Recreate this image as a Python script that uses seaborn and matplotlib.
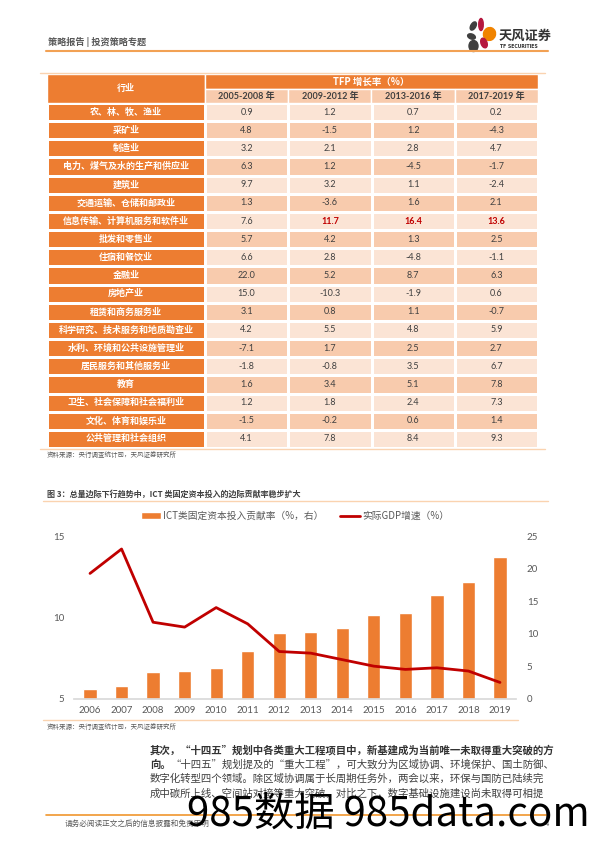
import matplotlib
matplotlib.use("Agg")
import matplotlib.pyplot as plt
import numpy as np
import seaborn as sns
from matplotlib.colors import ListedColormap
from matplotlib.lines import Line2D
from matplotlib.patches import Ellipse, Patch, Rectangle

# ---- table data: TFP growth by industry (%) ----
industries = [
    "农、林、牧、渔业", "采矿业", "制造业", "电力、煤气及水的生产和供应业", "建筑业",
    "交通运输、仓储和邮政业", "信息传输、计算机服务和软件业", "批发和零售业", "住宿和餐饮业",
    "金融业", "房地产业", "租赁和商务服务业", "科学研究、技术服务和地质勘查业",
    "水利、环境和公共设施管理业", "居民服务和其他服务业", "教育", "卫生、社会保障和社会福利业",
    "文化、体育和娱乐业", "公共管理和社会组织",
]
periods = ["2005-2008 年", "2009-2012 年", "2013-2016 年", "2017-2019 年"]
tfp_2005_2008 = [0.9, 4.8, 3.2, 6.3, 9.7, 1.3, 7.6, 5.7, 6.6, 22.0, 15.0, 3.1, 4.2, -7.1, -1.8, 1.6, 1.2, -1.5, 4.1]
tfp_2009_2012 = [1.2, -1.5, 2.1, 1.2, 3.2, -3.6, 11.7, 4.2, 2.8, 5.2, -10.3, 0.8, 5.5, 1.7, -0.8, 3.4, 1.8, -0.2, 7.8]
tfp_2013_2016 = [0.7, 1.2, 2.8, -4.5, 1.1, 1.6, 16.4, 1.3, -4.8, 8.7, -1.9, 1.1, 4.8, 2.5, 3.5, 5.1, 2.4, 0.6, 8.4]
tfp_2017_2019 = [0.2, -4.3, 4.7, -1.7, -2.4, 2.1, 13.6, 2.5, -1.1, 6.3, 0.6, -0.7, 5.9, 2.7, 6.7, 7.8, 7.3, 1.4, 9.3]
highlight_industry = "信息传输、计算机服务和软件业"
highlight_periods = ["2009-2012 年", "2013-2016 年", "2017-2019 年"]

# ---- chart data ----
years = ["2006", "2007", "2008", "2009", "2010", "2011", "2012",
         "2013", "2014", "2015", "2016", "2017", "2018", "2019"]
ict_share = [1.5, 2.0, 4.1, 4.3, 4.7, 7.3, 10.1, 10.3, 10.8, 12.9, 13.2, 15.9, 17.9, 21.7]
gdp_growth = [12.7, 14.2, 9.7, 9.4, 10.6, 9.6, 7.9, 7.8, 7.4, 7.0, 6.8, 6.9, 6.7, 6.0]

paragraph = [
    "其次，“十四五”规划中各类重大工程项目中，新基建成为当前唯一未取得重大突破的方",
    "“十四五”规划提及的“重大工程”，可大致分为区域协调、环境保护、国土防御、",
    "数字化转型四个领域。除区域协调属于长周期任务外，两会以来，环保与国防已陆续完",
    "成中碳所上线、空间站对接等重大突破，对比之下，数字基础设施建设尚未取得可相提",
]

ORANGE = "#ED7D31"
LIGHT = "#FBE4D5"
MID = "#F8CBAD"
RED = "#C00000"
GREY = "#595959"
DARK = "#404040"
RULE = "#F2A154"
CJK = ["Noto Sans CJK SC", "DejaVu Sans"]
NUM = ["Lato", "Noto Sans CJK SC", "DejaVu Sans"]

W, H = 596, 842

sns.set_theme(style="white")
plt.rcParams["font.family"] = CJK
plt.rcParams["axes.unicode_minus"] = False

fig = plt.figure(figsize=(W / 100, H / 100), dpi=100)


def rect(x0, y0, x1, y1):
    # pixel box (top-left origin) -> figure fraction
    return [x0 / W, 1 - y1 / H, (x1 - x0) / W, (y1 - y0) / H]


# ---- table header ----
hdr = fig.add_axes(rect(47, 74, 538, 103))
hdr.set_xlim(47, 538)
hdr.set_ylim(103, 74)
hdr.axis("off")
col_w = (538 - 205) / len(periods)
hdr.add_patch(Rectangle((47, 74), 158, 29, fc=ORANGE, ec="white", lw=1))
hdr.add_patch(Rectangle((205, 74), 333, 15, fc=ORANGE, ec="white", lw=1))
hdr.text(126, 88.5, "行业", color="white", weight="bold", ha="center", va="center", fontsize=6.5)
hdr.text(371, 81.5, "TFP 增长率（%）", color="white", weight="bold", ha="center", va="center", fontsize=6.8)
for i, p in enumerate(periods):
    x0 = 205 + i * col_w
    hdr.add_patch(Rectangle((x0, 89), col_w, 14, fc=MID, ec="white", lw=1))
    hdr.text(x0 + col_w / 2, 96, p, color=DARK, weight="bold", ha="center", va="center",
             fontsize=6.5, family=NUM)

# ---- first column (industry names) ----
ax_ind = fig.add_axes(rect(47, 103, 205, 448))
sns.heatmap(np.zeros((len(industries), 1)), ax=ax_ind, cmap=ListedColormap([ORANGE]),
            cbar=False, linewidths=1, linecolor="white",
            annot=np.array(industries).reshape(-1, 1), fmt="",
            annot_kws={"color": "white", "weight": "bold", "fontsize": 6.5, "family": CJK},
            xticklabels=False, yticklabels=False)

# ---- data cells ----
values = np.column_stack([tfp_2005_2008, tfp_2009_2012, tfp_2013_2016, tfp_2017_2019])
stripes = np.tile((np.arange(len(industries)) % 2)[:, None], (1, len(periods)))
labels = np.vectorize(lambda v: f"{v:.1f}")(values)
ax_tab = fig.add_axes(rect(205, 103, 538, 448))
sns.heatmap(stripes, ax=ax_tab, cmap=ListedColormap([LIGHT, MID]), vmin=0, vmax=1,
            cbar=False, linewidths=1, linecolor="white",
            annot=labels, fmt="",
            annot_kws={"color": DARK, "fontsize": 6.5, "family": NUM},
            xticklabels=False, yticklabels=False)
hi_row = industries.index(highlight_industry)
hi_cols = [periods.index(p) for p in highlight_periods]
for t in ax_tab.texts:
    cx, cy = t.get_position()
    if int(cy) == hi_row and int(cx) in hi_cols:
        t.set_color(RED)
        t.set_weight("bold")

# ---- chart ----
ax = fig.add_axes(rect(74.25, 536, 515.75, 698.7))
ax2 = ax.twinx()
sns.barplot(x=years, y=ict_share, ax=ax2, color=ORANGE, saturation=1, width=0.42)
sns.lineplot(x=years, y=gdp_growth, ax=ax, color=RED, linewidth=2)
ax.set_zorder(ax2.get_zorder() + 1)
ax.patch.set_visible(False)

ax.set_xlim(-0.5, len(years) - 0.5)
ax.set_ylim(5, 15)
ax.set_yticks([5, 10, 15])
ax2.set_ylim(0, 25)
ax2.set_yticks(range(0, 26, 5))
ax.set_xticks(range(len(years)), years)
for a in (ax, ax2):
    a.set_xlabel("")
    a.set_ylabel("")
    for s in a.spines.values():
        s.set_visible(False)
    a.tick_params(length=0, labelsize=7, labelcolor=GREY)
    for lab in a.get_xticklabels() + a.get_yticklabels():
        lab.set_family(NUM)
ax.spines["bottom"].set_visible(True)
ax.spines["bottom"].set_color("#D9D9D9")
ax.tick_params(axis="y", pad=7)
ax.tick_params(axis="x", pad=5)
ax2.tick_params(axis="y", pad=8)

handles = [Patch(facecolor=ORANGE), Line2D([], [], color=RED, lw=2)]
fig.legend(handles, ["ICT类固定资本投入贡献率（%，右）", "实际GDP增速（%）"],
           loc="center", bbox_to_anchor=(295 / W, 1 - 516 / H), ncol=2, frameon=False,
           fontsize=7, labelcolor=GREY, handlelength=2.0, handleheight=0.6,
           handletextpad=0.2, columnspacing=1.8)

# ---- page furniture ----
page = fig.add_axes([0, 0, 1, 1], zorder=10)
page.set_xlim(0, W)
page.set_ylim(H, 0)
page.axis("off")
page.patch.set_visible(False)

page.text(48, 42, "策略报告 | 投资策略专题", fontsize=6.6, weight="bold", color=GREY, va="center")
page.plot([46, 548], [51, 51], color=RULE, lw=1.5)
for (cx, cy, w, h, ang, col) in [
    (473.3, 26, 5, 9, 30, "#3F3F3F"), (481, 24.5, 4.5, 12, 0, "#B5173E"),
    (489.5, 34, 12, 13, 20, "#F08300"), (471.5, 36.5, 8, 5, 20, "#3F3F3F"),
    (484, 43, 6, 10, -20, "#B5173E"), (473.5, 46, 9, 11, 0, "#3F3F3F"),
]:
    page.add_patch(Ellipse((cx, cy), w, h, angle=ang, color=col))
page.text(499, 35.5, "天风证券", fontsize=9.5, weight="bold", color="#333333", va="center")
page.text(500, 46, "TF SECURITIES", fontsize=3.3, weight="bold", color="#333333", va="center",
          family=["DejaVu Sans"])

page.plot([40, 545], [73, 73], color="#FAD3B0", lw=1)
page.plot([40, 545], [449, 449], color="#FAD3B0", lw=1)
page.text(47, 455, "资料来源：央行调查统计司，天风证券研究所", fontsize=4.7, color=GREY, va="center")

page.text(47, 494, "图 3：总量边际下行趋势中，ICT 类固定资本投入的边际贡献率稳步扩大",
          fontsize=5.8, weight="bold", color=DARK, va="center")
page.plot([43, 548], [501, 501], color="#FAD3B0", lw=1)
page.plot([43, 518], [720, 720], color="#FAD3B0", lw=1)
page.text(47, 727, "资料来源：央行调查统计司，天风证券研究所", fontsize=4.7, color=GREY, va="center")

line_y = [750, 764.5, 779, 793.5]
page.text(150, line_y[0], paragraph[0], fontsize=7.5, weight="bold", color="#333333", va="center")
lead = page.text(150, line_y[1], "向。", fontsize=7.5, weight="bold", color="#333333", va="center")
fig.canvas.draw()
bb = lead.get_window_extent(fig.canvas.get_renderer())
page.text(bb.x1 / fig.dpi * 100, line_y[1], paragraph[1], fontsize=7.5, color=DARK, va="center")
for y, txt in zip(line_y[2:], paragraph[2:]):
    page.text(150, y, txt, fontsize=7.5, color=DARK, va="center")

page.plot([46, 548], [815, 815], color="#F0962E", lw=1.2)
page.text(65, 824, "请务必阅读正文之后的信息披露和免责申明", fontsize=5.5, color=GREY, va="center")
page.text(545, 824, "4", fontsize=5.5, color=GREY, va="center")
page.text(187, 814, "985数据 985data.com", fontsize=29, color="black", va="center")

fig.savefig("out.png", dpi=100)
